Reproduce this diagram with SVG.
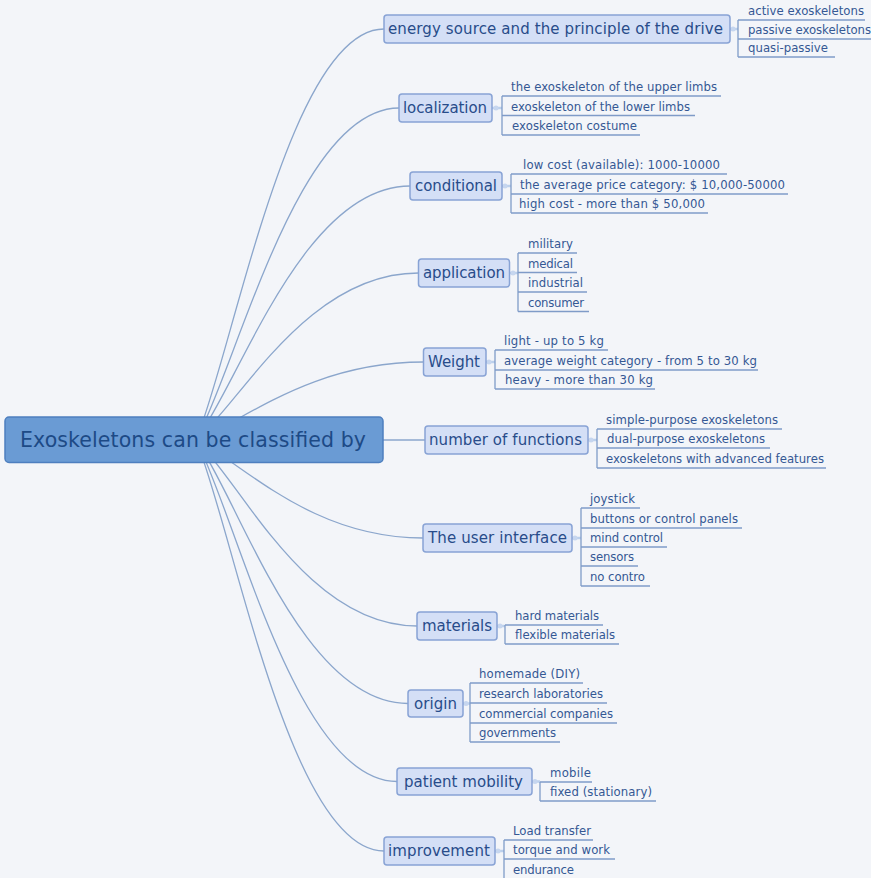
<svg xmlns="http://www.w3.org/2000/svg" width="871" height="878" viewBox="0 0 871 878">
<style>
.bg{fill:#f3f5f9}
.cn{fill:none;stroke:#8ba6cc;stroke-width:1.3}
.stub{fill:none;stroke:#bcd0ec;stroke-width:2.5}
.dot{fill:#c6d6ef}
.br{fill:none;stroke:#7f9bc8;stroke-width:1.3}
.ul{fill:none;stroke:#7f9bc8;stroke-width:1.3}
.root rect{fill:#6a9bd4;stroke:#4e7fbf;stroke-width:1.5}
.root text{fill:#1d4a86;font-family:"DejaVu Sans",Verdana,sans-serif;font-size:20.5px}
.node rect{fill:#d4dff6;stroke:#88a3d5;stroke-width:1.5}
.node text{fill:#284c8a;font-family:"DejaVu Sans",Verdana,sans-serif;font-size:15px}
.leaf text{fill:#355894;font-family:"DejaVu Sans",Verdana,sans-serif;font-size:11.7px}
</style>
<rect class="bg" x="0" y="0" width="871" height="878"/>
<g id="connectors">
<path class="cn" d="M196,440 C233.6,349.6 290,29 384,29"/>
<path class="cn" d="M196,440 C236.6,367 297.5,108 399,108"/>
<path class="cn" d="M196,440 C238.8,384.1 303,186 410,186"/>
<path class="cn" d="M196,440 C240.4,403.3 307,273 418.5,273"/>
<path class="cn" d="M196,440 C241.4,422.8 309.5,362 423.5,362"/>
<path class="cn" d="M196,440 L425,440"/>
<path class="cn" d="M196,440 C241.4,461.6 309.5,538 423,538"/>
<path class="cn" d="M196,440 C240.2,480.9 306.5,626 417,626"/>
<path class="cn" d="M196,440 C238.4,498 302,703.5 408,703.5"/>
<path class="cn" d="M196,440 C236.2,515.1 296.5,781.5 397,781.5"/>
<path class="cn" d="M196,440 C233.6,530.4 290,851 384,851"/>
<path class="stub" d="M730,29 H738"/><circle class="dot" cx="733" cy="29" r="2.5"/>
<path class="stub" d="M492,108 H502"/><circle class="dot" cx="496" cy="108" r="2.5"/>
<path class="stub" d="M502,186 H511"/><circle class="dot" cx="505" cy="186" r="2.5"/>
<path class="stub" d="M509.5,273 H518"/><circle class="dot" cx="513" cy="273" r="2.5"/>
<path class="stub" d="M486,362 H495"/><circle class="dot" cx="489" cy="362" r="2.5"/>
<path class="stub" d="M588,440 H597"/><circle class="dot" cx="591" cy="440" r="2.5"/>
<path class="stub" d="M572,538 H581"/><circle class="dot" cx="575" cy="538" r="2.5"/>
<path class="stub" d="M497,626 H505"/><circle class="dot" cx="500" cy="626" r="2.5"/>
<path class="stub" d="M463,703.5 H470"/><circle class="dot" cx="466" cy="703.5" r="2.5"/>
<path class="stub" d="M532,781.5 H540"/><circle class="dot" cx="535" cy="781.5" r="2.5"/>
<path class="stub" d="M495,851 H504"/><circle class="dot" cx="498" cy="851" r="2.5"/>
<path class="br" d="M738,20 V57"/>
<path class="br" d="M502,96 V135"/>
<path class="br" d="M511,174 V213"/>
<path class="br" d="M518,253 V311.5"/>
<path class="br" d="M495,350 V389"/>
<path class="br" d="M597,429 V468"/>
<path class="br" d="M581,508 V586"/>
<path class="br" d="M505,625 V644"/>
<path class="br" d="M470,683 V742"/>
<path class="br" d="M540,782 V801"/>
<path class="br" d="M504,840 V878"/>
</g>
<g id="root" class="root"><rect x="5" y="417" width="378" height="45.5" rx="4"/><text x="20" y="447" textLength="346">Exoskeletons can be classified by</text></g>
<g id="n-energy" class="node"><rect x="384" y="15" width="346" height="28" rx="3"/><text x="388" y="34" textLength="335">energy source and the principle of the drive</text></g>
<g id="n-localization" class="node"><rect x="399" y="94" width="93" height="28" rx="3"/><text x="403" y="113" textLength="84">localization</text></g>
<g id="n-conditional" class="node"><rect x="410" y="172" width="92" height="28" rx="3"/><text x="415" y="191" textLength="82">conditional</text></g>
<g id="n-application" class="node"><rect x="418.5" y="259" width="91" height="28" rx="3"/><text x="423" y="278" textLength="82">application</text></g>
<g id="n-weight" class="node"><rect x="423.5" y="348" width="62.5" height="28" rx="3"/><text x="428" y="367" textLength="52">Weight</text></g>
<g id="n-functions" class="node"><rect x="425" y="426" width="163" height="28" rx="3"/><text x="429" y="445" textLength="153">number of functions</text></g>
<g id="n-ui" class="node"><rect x="423" y="524" width="149" height="28" rx="3"/><text x="428" y="543" textLength="139">The user interface</text></g>
<g id="n-materials" class="node"><rect x="417" y="612" width="80" height="28" rx="3"/><text x="422" y="631" textLength="70">materials</text></g>
<g id="n-origin" class="node"><rect x="408" y="690" width="55" height="27" rx="3"/><text x="414" y="708.5" textLength="43">origin</text></g>
<g id="n-mobility" class="node"><rect x="397" y="768" width="135" height="27" rx="3"/><text x="404" y="786.5" textLength="119">patient mobility</text></g>
<g id="n-improvement" class="node"><rect x="384" y="837" width="111" height="28" rx="3"/><text x="388" y="856" textLength="102">improvement</text></g>
<g id="l-active" class="leaf"><text x="748" y="15" textLength="116">active exoskeletons</text><path class="ul" d="M738,20 H865"/></g>
<g id="l-passive" class="leaf"><text x="748" y="34" textLength="123">passive exoskeletons</text><path class="ul" d="M738,39 H871"/></g>
<g id="l-quasi" class="leaf"><text x="748" y="52" textLength="80">quasi-passive</text><path class="ul" d="M738,57 H835"/></g>
<g id="l-upper" class="leaf"><text x="511" y="91" textLength="206">the exoskeleton of the upper limbs</text><path class="ul" d="M502,96 H721"/></g>
<g id="l-lower" class="leaf"><text x="511" y="110.5" textLength="179">exoskeleton of the lower limbs</text><path class="ul" d="M502,115.5 H695"/></g>
<g id="l-costume" class="leaf"><text x="512" y="130" textLength="125">exoskeleton costume</text><path class="ul" d="M502,135 H640"/></g>
<g id="l-low" class="leaf"><text x="523" y="169" textLength="197">low cost (available): 1000-10000</text><path class="ul" d="M511,174 H727"/></g>
<g id="l-avg" class="leaf"><text x="520" y="189" textLength="265">the average price category: $ 10,000-50000</text><path class="ul" d="M511,194 H788"/></g>
<g id="l-high" class="leaf"><text x="519" y="208" textLength="186">high cost - more than $ 50,000</text><path class="ul" d="M511,213 H708"/></g>
<g id="l-military" class="leaf"><text x="528" y="248" textLength="45">military</text><path class="ul" d="M518,253 H577"/></g>
<g id="l-medical" class="leaf"><text x="528" y="267.5" textLength="45">medical</text><path class="ul" d="M518,272.5 H577"/></g>
<g id="l-industrial" class="leaf"><text x="528" y="287" textLength="55">industrial</text><path class="ul" d="M518,292 H587"/></g>
<g id="l-consumer" class="leaf"><text x="528" y="306.5" textLength="56">consumer</text><path class="ul" d="M518,311.5 H589"/></g>
<g id="l-light" class="leaf"><text x="504" y="345" textLength="100">light - up to 5 kg</text><path class="ul" d="M495,350 H608"/></g>
<g id="l-avgweight" class="leaf"><text x="504" y="365" textLength="253">average weight category - from 5 to 30 kg</text><path class="ul" d="M495,370 H758"/></g>
<g id="l-heavy" class="leaf"><text x="505" y="384" textLength="148">heavy - more than 30 kg</text><path class="ul" d="M495,389 H655"/></g>
<g id="l-simple" class="leaf"><text x="606" y="424" textLength="172">simple-purpose exoskeletons</text><path class="ul" d="M597,429 H782"/></g>
<g id="l-dual" class="leaf"><text x="607" y="443" textLength="158">dual-purpose exoskeletons</text><path class="ul" d="M597,448 H770"/></g>
<g id="l-advanced" class="leaf"><text x="606" y="463" textLength="218">exoskeletons with advanced features</text><path class="ul" d="M597,468 H826"/></g>
<g id="l-joystick" class="leaf"><text x="590" y="503" textLength="45">joystick</text><path class="ul" d="M581,508 H640"/></g>
<g id="l-buttons" class="leaf"><text x="590" y="523" textLength="148">buttons or control panels</text><path class="ul" d="M581,528 H742"/></g>
<g id="l-mind" class="leaf"><text x="590" y="542" textLength="73">mind control</text><path class="ul" d="M581,547 H667"/></g>
<g id="l-sensors" class="leaf"><text x="590" y="561" textLength="44">sensors</text><path class="ul" d="M581,566 H638"/></g>
<g id="l-nocontro" class="leaf"><text x="590" y="581" textLength="55">no contro</text><path class="ul" d="M581,586 H650"/></g>
<g id="l-hard" class="leaf"><text x="515" y="620" textLength="84">hard materials</text><path class="ul" d="M505,625 H603"/></g>
<g id="l-flexible" class="leaf"><text x="515" y="639" textLength="100">flexible materials</text><path class="ul" d="M505,644 H619"/></g>
<g id="l-homemade" class="leaf"><text x="479" y="678" textLength="101">homemade (DIY)</text><path class="ul" d="M470,683 H583"/></g>
<g id="l-research" class="leaf"><text x="479" y="698" textLength="124">research laboratories</text><path class="ul" d="M470,703 H607"/></g>
<g id="l-commercial" class="leaf"><text x="479" y="718" textLength="134">commercial companies</text><path class="ul" d="M470,723 H617"/></g>
<g id="l-governments" class="leaf"><text x="479" y="737" textLength="77">governments</text><path class="ul" d="M470,742 H560"/></g>
<g id="l-mobile" class="leaf"><text x="550" y="777" textLength="41">mobile</text><path class="ul" d="M540,782 H592"/></g>
<g id="l-fixed" class="leaf"><text x="550" y="796" textLength="102">fixed (stationary)</text><path class="ul" d="M540,801 H656"/></g>
<g id="l-load" class="leaf"><text x="513" y="835" textLength="78">Load transfer</text><path class="ul" d="M504,840 H593"/></g>
<g id="l-torque" class="leaf"><text x="513" y="854" textLength="97">torque and work</text><path class="ul" d="M504,859 H615"/></g>
<g id="l-endurance" class="leaf"><text x="513" y="874" textLength="61">endurance</text></g>
</svg>
